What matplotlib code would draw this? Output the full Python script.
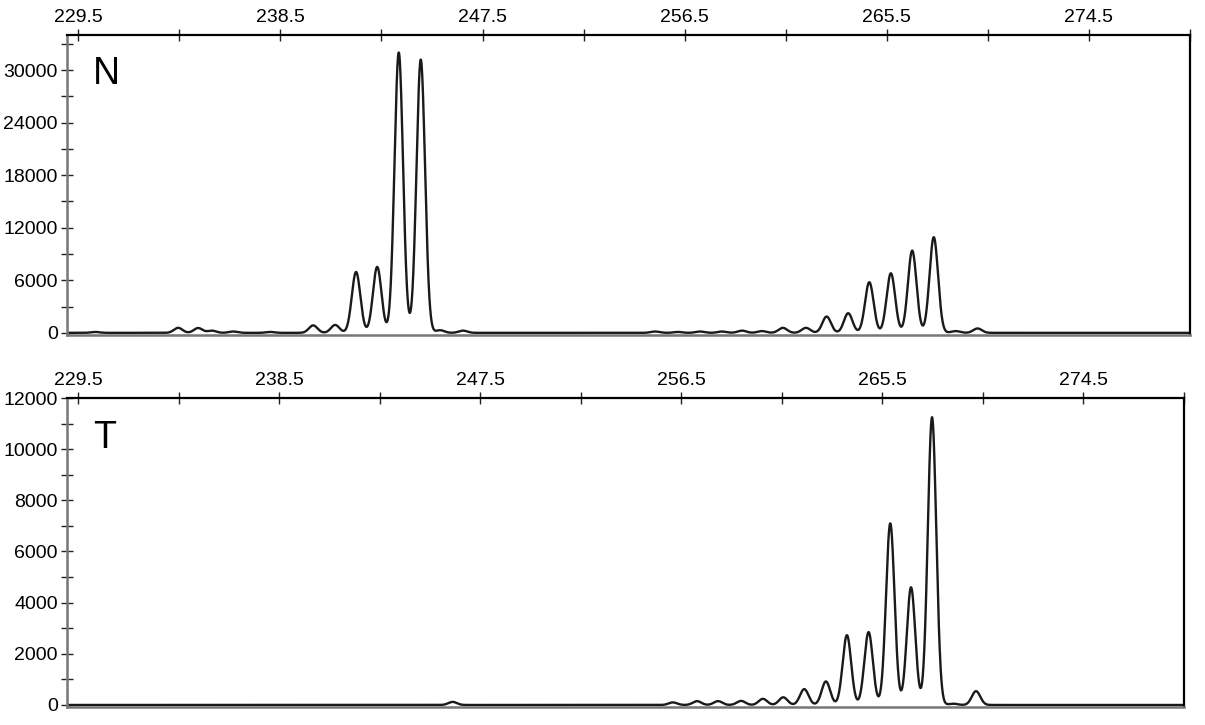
import numpy as np
import matplotlib
matplotlib.use('Agg')
import matplotlib.pyplot as plt
from matplotlib.ticker import MultipleLocator, FixedLocator

plt.rcParams['font.family'] = ['Liberation Sans', 'DejaVu Sans']

## Peak table (size in bp, height in RFU)
n_pos = [230.26, 233.95, 234.84, 235.45, 236.4, 238.05, 239.96, 240.94,
         241.87, 242.81, 243.77, 244.75, 245.61, 246.63, 255.18, 256.2,
         257.18, 258.16, 259.05, 259.94, 260.87, 261.9, 262.82, 263.78,
         264.72, 265.68, 266.63, 267.59, 268.56, 269.54]
n_height = [100, 570, 550, 250, 150, 100, 850, 900,
            6950, 7530, 32000, 31200, 300, 250, 150, 100,
            150, 150, 250, 200, 570, 570, 1860, 2240,
            5780, 6800, 9390, 10920, 200, 500]

t_pos = [246.26, 256.12, 257.2, 258.14, 259.17, 260.15, 261.06, 262.0,
         262.97, 263.91, 264.88, 265.85, 266.78, 267.72, 268.67, 269.69]
t_height = [120, 100, 150, 150, 160, 240, 300, 620,
            920, 2730, 2850, 7100, 4600, 11250, 50, 540]

peak_sigma = 0.19

x_major = [229.5, 238.5, 247.5, 256.5, 265.5, 274.5]
x_minor = [234.0, 243.0, 252.0, 261.0, 270.0, 279.0]

n_ticks = [0, 6000, 12000, 18000, 24000, 30000]
t_ticks = [0, 2000, 4000, 6000, 8000, 10000, 12000]


def trace(xs, pos, height):
    y = np.zeros_like(xs)
    for p, h in zip(pos, height):
        y += h * np.exp(-(xs - p) ** 2 / (2 * peak_sigma ** 2))
    return y


def setupAxis(ax, yticks, yminor, ylim, label):
    ax.set_xlim(229, 279)
    ax.set_ylim(*ylim)
    ax.xaxis.set_ticks_position('top')
    ax.xaxis.set_major_locator(FixedLocator(x_major))
    ax.xaxis.set_minor_locator(FixedLocator(x_minor))
    ax.set_xticklabels([str(v) for v in x_major])
    ax.yaxis.set_major_locator(FixedLocator(yticks))
    ax.yaxis.set_minor_locator(MultipleLocator(yminor))
    ax.set_yticklabels([str(v) for v in yticks])
    ax.tick_params(axis='both', which='both', direction='inout', length=9,
                   width=1, color='#222222', labelsize=14, pad=2)
    ax.tick_params(axis='x', which='both', top=True, bottom=False)
    ax.tick_params(axis='y', which='both', left=True, right=False)
    for s in ['top', 'right']:
        ax.spines[s].set_color('black')
        ax.spines[s].set_linewidth(1.6)
    for s in ['left', 'bottom']:
        ax.spines[s].set_color('#777777')
        ax.spines[s].set_linewidth(1.8)
    ax.text(0.023, 0.93, label, transform=ax.transAxes, fontsize=27,
            va='top', ha='left')


fig = plt.figure(figsize=(12.05, 7.25), dpi=100)
ax1 = fig.add_axes([0.0556, 0.5379, 0.932, 0.4138])
ax2 = fig.add_axes([0.0556, 0.0248, 0.927, 0.4262])

xs = np.linspace(229, 279, 6000)

ax1.plot(xs, trace(xs, n_pos, n_height), color='#1a1a1a', lw=1.7)
setupAxis(ax1, n_ticks, 3000, (-250, 34000), 'N')

ax2.plot(xs, trace(xs, t_pos, t_height), color='#1a1a1a', lw=1.7)
setupAxis(ax2, t_ticks, 1000, (-80, 12000), 'T')

fig.savefig('out.png', dpi=100)
